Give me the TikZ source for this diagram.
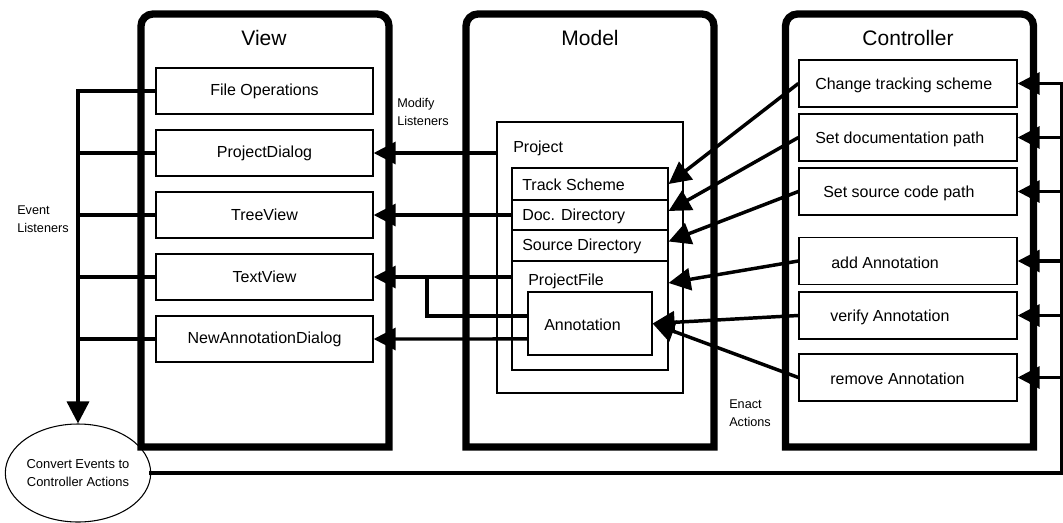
\documentclass[tikz,border=0pt]{standalone}
\usepackage{fontspec}
\setmainfont{Liberation Sans}
\usetikzlibrary{arrows.meta,shapes.geometric}
\begin{document}
\begin{tikzpicture}[x=0.75pt,y=-0.75pt,
  frame/.style={line width=5.5pt,line join=miter},
  vbox/.style={draw,line width=1pt,minimum width=162.75pt,minimum height=34.5pt,inner sep=0pt,font=\fontsize{12}{14}\selectfont},
  cbox/.style={draw,line width=1pt,minimum width=163.5pt,minimum height=35.25pt,inner sep=0pt},
  mrow/.style={draw,line width=0.9pt,minimum width=117pt,inner sep=0pt},
  btxt/.style={font=\fontsize{12}{14}\selectfont,inner sep=0pt,anchor=west},
  title/.style={font=\fontsize{15.75}{18}\selectfont,inner sep=0pt},
  small/.style={font=\fontsize{9.5}{13.5}\selectfont,align=left,inner sep=0pt,anchor=north west},
  conn/.style={line width=2.6pt,line cap=rect},
  arr/.style={line width=2.6pt,-{Triangle[length=16.5pt,width=16.5pt]}},
]
\useasboundingbox (0,0) rectangle (1063,522);

% the three layer frames, rounded at the top only
\draw[frame] (141,447) -- (141,26) arc[start angle=180,end angle=270,radius=12]
  -- (377,14) arc[start angle=270,end angle=360,radius=12] -- (389,447) -- cycle;
\draw[frame] (466,447) -- (466,26) arc[start angle=180,end angle=270,radius=12]
  -- (702,14) arc[start angle=270,end angle=360,radius=12] -- (714,447) -- cycle;
\draw[frame] (785.5,447) -- (785.5,26) arc[start angle=180,end angle=270,radius=12]
  -- (1021.5,14) arc[start angle=270,end angle=360,radius=12] -- (1033.5,447) -- cycle;

\node[title] (viewT) at (264,38) {View};
\node[title] (modelT) at (590,38) {Model};
\node[title] (ctrlT) at (908,38) {Controller};

% View
\node[vbox] (fileop)  at (264.5,91)  {File Operations};
\node[vbox] (projdlg) at (264.5,153) {ProjectDialog};
\node[vbox] (tree)    at (264.5,215) {TreeView};
\node[vbox] (textv)   at (264.5,277) {TextView};
\node[vbox] (newann)  at (264.5,339) {NewAnnotationDialog};

% Model
\node[draw,line width=0.9pt,minimum width=139.5pt,minimum height=203.25pt,inner sep=0pt] (project) at (590,257.5) {};
\node[btxt] (projectT) at (513,148) {Project};
\node[mrow,minimum height=24pt]    (ts) at (590,184)   {};
\node[mrow,minimum height=22.5pt]  (dd) at (590,215)   {};
\node[mrow,minimum height=23.25pt] (sd) at (590,245.5) {};
\node[mrow,minimum height=81.75pt] (pf) at (590,315.5) {};
\node[btxt] (tsT) at (522,185) {Track Scheme};
\node[btxt] (ddT) at (522,216) {Doc. Directory};
\node[btxt] (sdT) at (522,246) {Source Directory};
\node[btxt] (pfT) at (528,281) {ProjectFile};
\node[draw,line width=0.9pt,minimum width=93pt,minimum height=47.25pt,inner sep=0pt] (ann) at (590,323.5) {};
\node[btxt] (annT) at (544,325) {Annotation};

% Controller
\node[cbox] (chg)  at (908,83.5)  {};
\node[cbox] (sdoc) at (908,137.5) {};
\node[cbox] (ssrc) at (908,191.5) {};
\node[cbox] (addA) at (908,261)   {};
\node[cbox] (verA) at (908,315.5) {};
\node[cbox] (remA) at (908,377.5) {};
\node[btxt] (chgT)  at (815,85)  {Change tracking scheme};
\node[btxt] (sdocT) at (815,139) {Set documentation path};
\node[btxt] (ssrcT) at (823,193) {Set source code path};
\node[btxt] (addAT) at (831,263) {add Annotation};
\node[btxt] (verAT) at (830,317) {verify Annotation};
\node[btxt] (remAT) at (830,379) {remove Annotation};

% event converter
\node[ellipse,draw,line width=0.8pt,minimum width=105pt,minimum height=73.5pt,inner sep=0pt,
      align=center,font=\fontsize{9.7}{13.5}\selectfont] (conv) at (78,473)
      {Convert Events to\\Controller Actions};

% labels
\node[small] (evl) at (17,206) {Event\\Listeners};
\node[small] (mdl) at (397,98) {Modify\\Listeners};
\node[small] (ena) at (729,400) {Enact\\Actions};

% event listeners bus
\draw[arr] (fileop.west) -| (conv.north);
\foreach \b in {projdlg,tree,textv,newann}
  \draw[conn] (\b.west) -- (\b.west -| conv.north);

% controller action bus
\coordinate (rbx) at (1062,0);
\draw[conn] (conv.east) -| (rbx |- chg.east);
\foreach \b in {chg,sdoc,ssrc,addA,verA,remA}
  \draw[arr] (rbx |- \b.east) -- (\b.east);

% model notifies views
\draw[arr] (project.west |- projdlg.east) -- (projdlg.east);
\draw[arr] (dd.west) -- (tree.east);
\draw[arr] (pf.west |- textv.east) -- (textv.east);
\coordinate (jn) at (427,277);
\draw[conn] ([yshift=5.6pt]ann.west) -| (jn);
\draw[arr] ([yshift=-11.6pt]ann.west) -- (newann.east);

% controller acts on model
\draw[arr] (chg.west) -- (ts.east);
\draw[arr] (sdoc.west) -- ([yshift=3pt]dd.east);
\draw[arr] (ssrc.west) -- ([yshift=3pt]sd.east);
\draw[arr] (addA.west) -- ([yshift=24.4pt]pf.east);
\draw[arr] (verA.west) -- (ann.east);
\draw[arr] (remA.west) -- (ann.east);
\end{tikzpicture}
\end{document}
